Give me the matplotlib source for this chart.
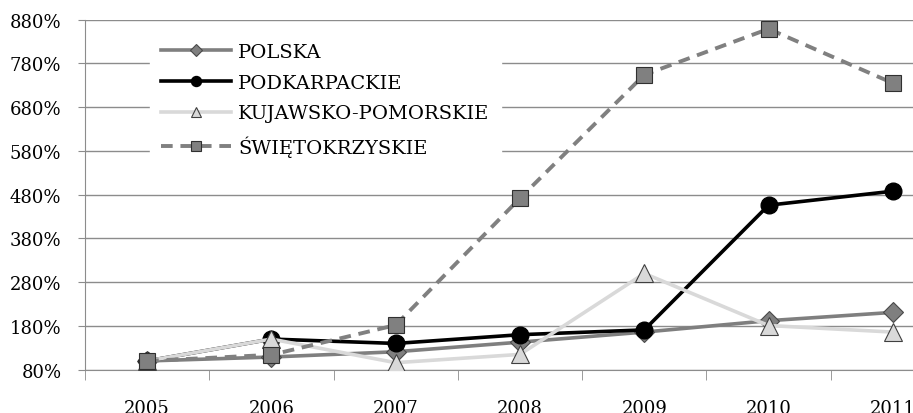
import numpy as np
import matplotlib.pyplot as plt
from matplotlib.ticker import FuncFormatter

plt.rcParams['font.family'] = ['DejaVu Serif']

lata = ['2005', '2006', '2007', '2008', '2009', '2010', '2011']
polska = [100, 109, 121, 143, 166, 192, 211]
podkarpackie = [100, 150, 140, 160, 171, 456, 488]
kujawsko = [100, 150, 96, 115, 300, 181, 166]
swietokrzyskie = [100, 114, 182, 472, 754, 859, 735]
yticks = [80, 180, 280, 380, 480, 580, 680, 780, 880]

fig = plt.figure(figsize=(9.13, 4.14), dpi=100)
ax = fig.add_axes([85/913, 43.3/414, 870/913, 350/414])

x = np.arange(len(lata))
ax.plot(x, polska, color='#7f7f7f', lw=2.6, marker='D', ms=10,
        mfc='#7f7f7f', mec='#4a4a4a', mew=0.8, label='POLSKA', zorder=3)
ax.plot(x, podkarpackie, color='black', lw=2.6, marker='o', ms=12,
        mfc='black', mec='black', label='PODKARPACKIE', zorder=4)
ax.plot(x, kujawsko, color='#d9d9d9', lw=2.6, marker='^', ms=13,
        mfc='#d9d9d9', mec='#404040', mew=0.8, label='KUJAWSKO-POMORSKIE', zorder=5)
ax.plot(x, swietokrzyskie, color='#808080', lw=2.8, ls=(0, (3, 2)), marker='s', ms=11,
        mfc='#808080', mec='#303030', mew=0.8, label='ŚWIĘTOKRZYSKIE', zorder=6)

ax.set_xlim(-0.5, 6.5)
ax.set_ylim(80, 880)
ax.set_yticks(yticks)
ax.yaxis.set_major_formatter(FuncFormatter(lambda v, p: '%d%%' % v))
ax.set_xticks(x)
ax.set_xticklabels(lata)
ax.set_xticks(np.arange(-0.5, 7, 1), minor=True)

ax.grid(axis='y', color='#8c8c8c', lw=1)
ax.set_axisbelow(True)
for s in ['top', 'right']:
    ax.spines[s].set_visible(False)
for s in ['left', 'bottom']:
    ax.spines[s].set_color('#8c8c8c')
ax.tick_params(axis='x', which='major', length=0, pad=21, labelsize=13)
ax.tick_params(axis='x', which='minor', length=7, color='#8c8c8c')
ax.tick_params(axis='y', length=5, color='#8c8c8c', pad=12, labelsize=13)

leg = ax.legend(loc='upper left', bbox_to_anchor=(55/870, 1 - 2/350), frameon=True,
                fancybox=False, edgecolor='white', framealpha=1, fontsize=14,
                markerscale=0.6, handlelength=3.6, handletextpad=0.35,
                labelspacing=0.65, borderpad=0.6)

fig.savefig('out.png', dpi=100)
